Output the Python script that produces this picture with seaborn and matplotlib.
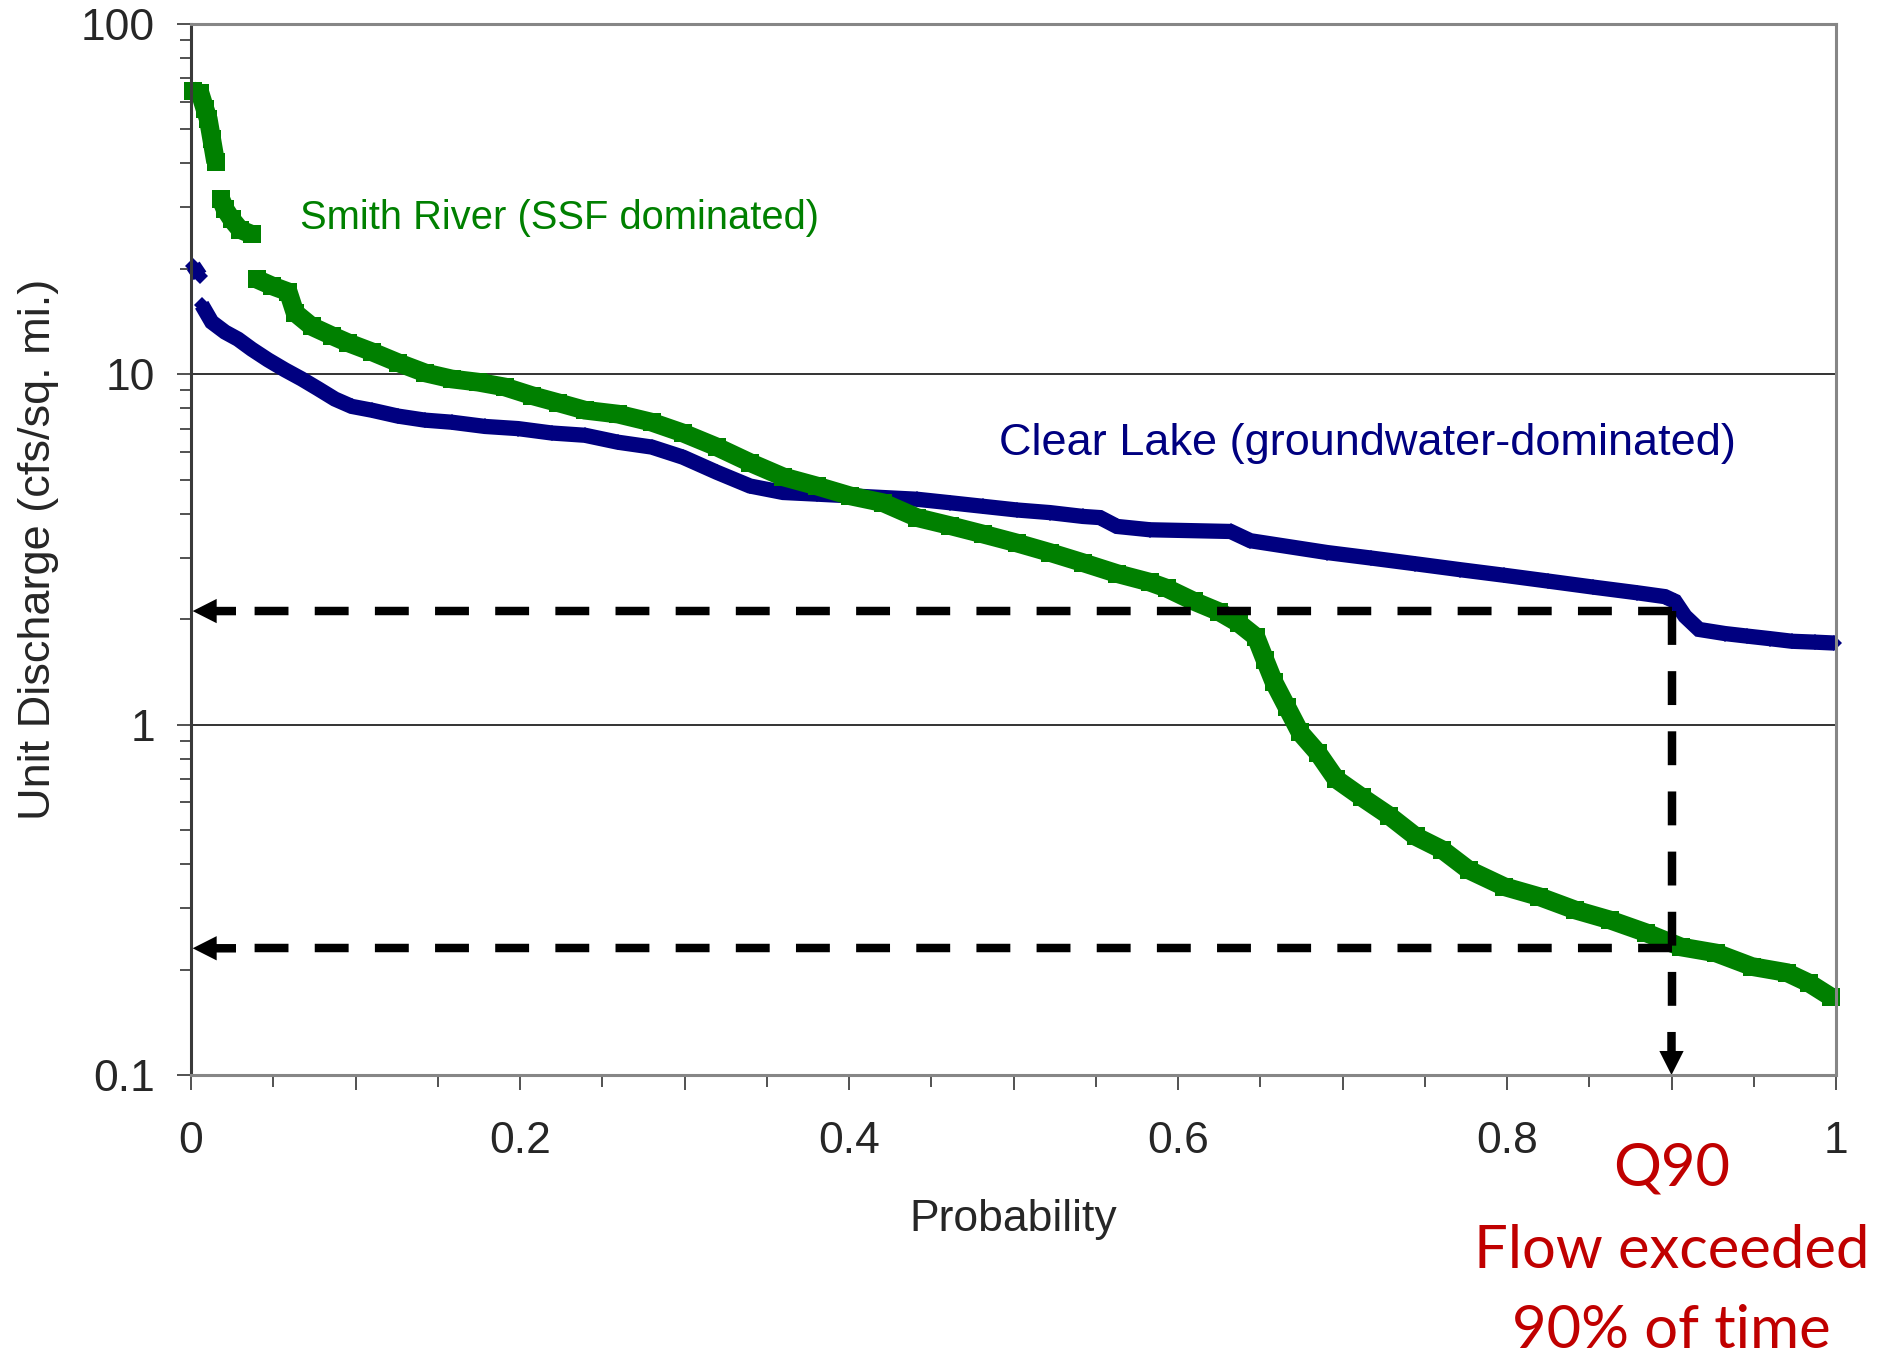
import matplotlib
matplotlib.use("Agg")
import numpy as np
import pandas as pd
import matplotlib.pyplot as plt
import matplotlib.transforms as mtransforms
from matplotlib.ticker import FixedLocator, FixedFormatter, LogLocator, NullFormatter
import seaborn as sns

# ---------------- data ----------------
clear_prob = [0.0014, 0.0055, 0.0065, 0.0126, 0.0207, 0.0286, 0.0369, 0.0468, 0.0571,
              0.0673, 0.0772, 0.0875, 0.0977, 0.1099, 0.1258, 0.1422, 0.1585, 0.1787,
              0.1988, 0.2193, 0.2395, 0.2596, 0.2801, 0.2991, 0.3198, 0.3398, 0.3599,
              0.3805, 0.4006, 0.4207, 0.4413, 0.4614, 0.4815, 0.5021, 0.5222, 0.5422,
              0.5526, 0.5629, 0.5830, 0.6320, 0.6440, 0.6906, 0.7173, 0.7441, 0.7714,
              0.7982, 0.8249, 0.8523, 0.8790, 0.8960, 0.9021, 0.9082, 0.9167, 0.9325,
              0.9459, 0.9599, 0.9733, 0.9872, 0.9990]
clear_q = [20.4, 19.1, 15.8, 14.1, 13.2, 12.6, 11.8, 11.0, 10.3,
           9.7, 9.1, 8.5, 8.1, 7.9, 7.6, 7.4, 7.3, 7.1,
           7.0, 6.8, 6.7, 6.4, 6.2, 5.8, 5.25, 4.8, 4.6,
           4.55, 4.5, 4.45, 4.4, 4.3, 4.2, 4.1, 4.03, 3.93,
           3.9, 3.68, 3.6, 3.56, 3.35, 3.10, 2.99, 2.88, 2.77,
           2.67, 2.57, 2.47, 2.38, 2.32, 2.25, 2.04, 1.87, 1.82,
           1.79, 1.76, 1.73, 1.72, 1.71]

smith_prob = [0.0010, 0.0055, 0.0085, 0.0105, 0.0126, 0.0150, 0.0182, 0.0207, 0.0247,
              0.0298, 0.0369, 0.0399, 0.0491, 0.0591, 0.0632, 0.0734, 0.0855, 0.0956,
              0.1099, 0.1258, 0.1422, 0.1585, 0.1745, 0.1909, 0.2071, 0.2231, 0.2395,
              0.2596, 0.2801, 0.2991, 0.3198, 0.3398, 0.3599, 0.3805, 0.4006, 0.4207,
              0.4413, 0.4614, 0.4815, 0.5021, 0.5222, 0.5422, 0.5629, 0.5830, 0.5933,
              0.6097, 0.6250, 0.6368, 0.6474, 0.6529, 0.6584, 0.6663, 0.6742, 0.6851,
              0.6960, 0.7119, 0.7283, 0.7444, 0.7605, 0.7767, 0.7982, 0.8195, 0.8413,
              0.8626, 0.8843, 0.9058, 0.9271, 0.9489, 0.9702, 0.9836, 0.9970]
smith_q = [64.5, 63.5, 57.2, 53.5, 46.9, 40.3, 31.6, 29.6, 27.7,
           25.9, 25.1, 18.7, 17.9, 17.2, 15.0, 13.7, 12.9, 12.3,
           11.6, 10.8, 10.1, 9.7, 9.5, 9.2, 8.7, 8.3, 7.9,
           7.7, 7.3, 6.8, 6.2, 5.6, 5.1, 4.8, 4.5, 4.3,
           3.9, 3.7, 3.5, 3.3, 3.1, 2.9, 2.7, 2.55, 2.45,
           2.25, 2.1, 1.95, 1.78, 1.53, 1.32, 1.12, 0.95, 0.83,
           0.70, 0.62, 0.55, 0.48, 0.44, 0.385, 0.345, 0.323, 0.296,
           0.277, 0.255, 0.232, 0.223, 0.204, 0.196, 0.183, 0.167]

q90_prob = 0.9
q90_clear = 2.11
q90_smith = 0.23

x_ticks = [0.0, 0.1, 0.2, 0.3, 0.4, 0.5, 0.6, 0.7, 0.8, 0.9, 1.0]
x_tick_labels = ["0", "", "0.2", "", "0.4", "", "0.6", "", "0.8", "", "1"]
x_minor = [0.05, 0.15, 0.25, 0.35, 0.45, 0.55, 0.65, 0.75, 0.85, 0.95]
y_ticks = [0.1, 1, 10, 100]
y_tick_labels = ["0.1", "1", "10", "100"]
grid_levels = [1, 10]

smith_label = "Smith River (SSF dominated)"
clear_label = "Clear Lake (groundwater-dominated)"
q90_lines = ["Q90", "Flow exceeded", "90% of time"]

NAVY = "#000080"
GREEN = "#008000"
RED = "#C00000"

# ---------------- style ----------------
sns.set_style("white")
plt.rcParams["font.family"] = ["Liberation Sans", "DejaVu Sans"]

W, H = 1896, 1358
fig = plt.figure(figsize=(W / 100, H / 100), dpi=100)
ax = fig.add_axes([191 / W, 1 - 1075 / H, 1645 / W, 1051 / H])


def segments(q, thr):
    """Split a curve where the picture shows a visible jump between markers."""
    lq = np.log10(q)
    seg, s = [0], 0
    for i in range(1, len(q)):
        if abs(lq[i] - lq[i - 1]) > thr:
            s += 1
        seg.append(s)
    return seg


clear_df = pd.DataFrame({"p": clear_prob, "q": clear_q,
                         "seg": segments(clear_q, 0.075)})
smith_df = pd.DataFrame({"p": smith_prob, "q": smith_q,
                         "seg": segments(smith_q, 0.09)})

n0 = len(ax.lines)
sns.lineplot(data=clear_df, x="p", y="q", units="seg", estimator=None, ax=ax,
             color=NAVY, marker="D", markersize=8, markeredgewidth=0,
             clip_on=False, zorder=3)
n1 = len(ax.lines)
sns.lineplot(data=smith_df, x="p", y="q", units="seg", estimator=None, ax=ax,
             color=GREEN, marker="s", markersize=13.5, markeredgewidth=0,
             clip_on=False, zorder=4)
n2 = len(ax.lines)
for ln in ax.lines[n0:n1]:
    ln.set_linewidth(11)
    ln.set_solid_capstyle("butt")
    ln.set_solid_joinstyle("miter")
for ln in ax.lines[n1:n2]:
    ln.set_linewidth(13.5)
    ln.set_solid_capstyle("butt")
    ln.set_solid_joinstyle("miter")

ax.set_yscale("log")
ax.set_xlim(0, 1)
ax.set_ylim(0.1, 100)

# horizontal gridlines
for g in grid_levels:
    ax.axhline(g, color="#111111", lw=1.2, zorder=1)

# ---------------- Q90 dashed guides ----------------
LW = 6.1
dash = (0, (4.0, 3.1))
head_len = 45 / 1645
ax.plot([q90_prob, head_len], [q90_clear, q90_clear], color="k", lw=LW,
        linestyle=dash, dash_capstyle="butt", zorder=6)
ax.plot([q90_prob, head_len], [q90_smith, q90_smith], color="k", lw=LW,
        linestyle=dash, dash_capstyle="butt", zorder=6)
y_arrow_start = 10 ** (np.log10(0.1) + 43 / 350)
ax.plot([q90_prob, q90_prob], [q90_clear, y_arrow_start], color="k", lw=LW,
        linestyle=dash, dash_capstyle="butt", zorder=6)

astyle = "simple,head_length=1.73,head_width=1.75,tail_width=0.61"
for yy in (q90_clear, q90_smith):
    ax.annotate("", xy=(0.001, yy), xytext=(head_len, yy),
                arrowprops=dict(arrowstyle=astyle, mutation_scale=10, fc="k",
                                ec="none", lw=0, shrinkA=0, shrinkB=0),
                annotation_clip=False, zorder=7)
ax.annotate("", xy=(q90_prob, 0.1), xytext=(q90_prob, y_arrow_start),
            arrowprops=dict(arrowstyle=astyle, mutation_scale=10, fc="k",
                            ec="none", lw=0, shrinkA=0, shrinkB=0),
            annotation_clip=False, zorder=7)

# ---------------- axes styling ----------------
for side in ["top", "right", "bottom"]:
    ax.spines[side].set_color("#868686")
    ax.spines[side].set_linewidth(2.2)
ax.spines["left"].set_color("#3a3a3a")
ax.spines["left"].set_linewidth(2.2)
for s in ax.spines.values():
    s.set_zorder(8)

ax.xaxis.set_major_locator(FixedLocator(x_ticks))
ax.xaxis.set_major_formatter(FixedFormatter(x_tick_labels))
ax.xaxis.set_minor_locator(FixedLocator(x_minor))
ax.yaxis.set_major_locator(FixedLocator(y_ticks))
ax.yaxis.set_major_formatter(FixedFormatter(y_tick_labels))
ax.yaxis.set_minor_locator(LogLocator(base=10, subs=np.arange(2, 10)))
ax.yaxis.set_minor_formatter(NullFormatter())

ax.tick_params(axis="both", which="both", direction="out", color="#222222",
               width=1.1, left=True, bottom=True)
ax.tick_params(axis="y", which="major", length=10, pad=16, labelsize=32)
ax.tick_params(axis="y", which="minor", length=8)
ax.tick_params(axis="x", which="major", length=11, pad=22, labelsize=32)
ax.tick_params(axis="x", which="minor", length=8.5)

ax.set_xlabel("Probability", fontsize=32)
ax.set_ylabel("Unit Discharge (cfs/sq. mi.)", fontsize=32.5)
ax.xaxis.set_label_coords(0.5, -0.118)
ax.yaxis.set_label_coords(-0.080, 0.5)

# ---------------- annotations ----------------
ax.text(0.066, 28.0, smith_label, color=GREEN, fontsize=28.7,
        ha="left", va="center")
ax.text(0.491, 6.36, clear_label, color=NAVY, fontsize=32.5,
        ha="left", va="center")

trans = mtransforms.blended_transform_factory(ax.transData, fig.transFigure)
baselines = [1 - 1186 / H, 1 - 1268 / H, 1 - 1348 / H]
for txt, yb in zip(q90_lines, baselines):
    ax.text(q90_prob, yb, txt, transform=trans, color=RED, fontsize=43,
            family=["Lato", "DejaVu Sans"], ha="center", va="baseline",
            clip_on=False)

fig.savefig("out.png", dpi=100, facecolor="white")
